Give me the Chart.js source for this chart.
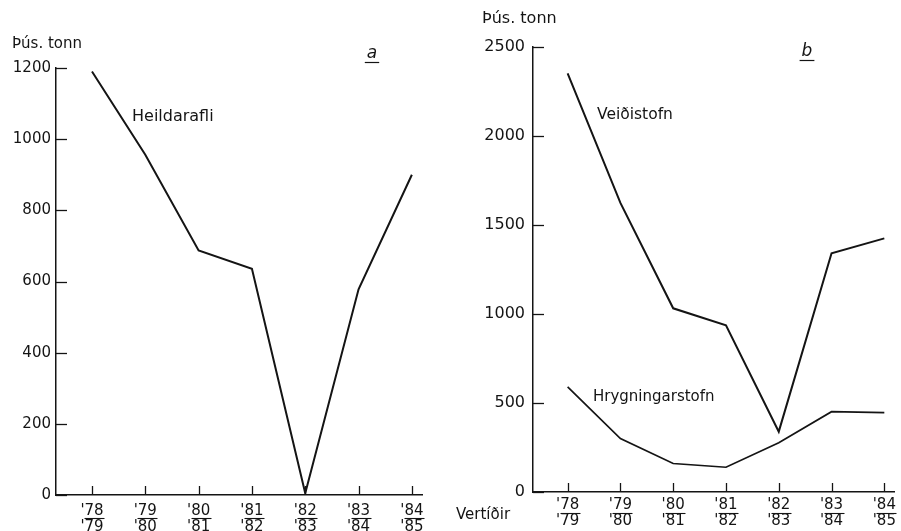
<!DOCTYPE html>
<html>
<head>
<meta charset="utf-8">
<title>Heildarafli, veiðistofn og hrygningarstofn</title>
<script src="https://cdn.jsdelivr.net/npm/chart.js@4/dist/chart.umd.min.js"></script>
<style>
  html, body { margin: 0; padding: 0; background: #ffffff; }
  #wrap { position: relative; width: 901px; height: 531px; overflow: hidden; background: #fff; }
  canvas { position: absolute; top: 0; }
  #chartA { left: 0; }
  #chartB { left: 450px; }
</style>
</head>
<body>
<div id="wrap">
  <canvas id="chartA" width="450" height="531"></canvas>
  <canvas id="chartB" width="451" height="531"></canvas>
</div>
<script>
// Vertíðir (fishing seasons), written as '78/'79 etc.
const seasons = [['78', '79'], ['79', '80'], ['80', '81'], ['81', '82'], ['82', '83'], ['83', '84'], ['84', '85']];

// Panel a: total catch, thousand tonnes
const heildarafli = [1190, 956, 687, 636, 5, 578, 900];

// Panel b: fishable stock and spawning stock, thousand tonnes
const veidistofn = [2352, 1624, 1032, 936, 339, 1341, 1425];
const hrygningarstofn = [590, 300, 160, 139, 277, 451, 446];

// Value-axis tick labels
const ticksA = [0, 200, 400, 600, 800, 1000, 1200];
const ticksB = [0, 500, 1000, 1500, 2000, 2500];

const INK = '#141414';
const FONT = '"DejaVu Sans", "Liberation Sans", sans-serif';

const toPoints = vals => vals.map((v, i) => ({ x: i, y: v }));

function seasonAxis(min, max, height, pad) {
  return {
    type: 'linear',
    min, max,
    afterBuildTicks: s => { s.ticks = seasons.map((_, i) => ({ value: i })); },
    afterFit: s => { s.height = height; },
    grid: { display: false, drawTicks: false },
    border: { display: true, color: INK, width: 1.5 },
    ticks: {
      padding: pad,
      color: INK,
      autoSkip: false,
      maxRotation: 0,
      font: { family: FONT, size: 15, lineHeight: 1.07 },
      callback: v => {
        const s = seasons[v];
        return s ? ["'" + s[0], "'" + s[1]] : '';
      }
    }
  };
}

function valueAxis(max, tickList, width, pad, size) {
  return {
    type: 'linear',
    min: 0, max,
    afterBuildTicks: s => { s.ticks = tickList.map(v => ({ value: v })); },
    afterFit: s => { s.width = width; },
    grid: { display: false, drawTicks: false },
    border: { display: true, color: INK, width: 1.5 },
    ticks: {
      padding: pad,
      color: INK,
      font: { family: FONT, size },
      callback: v => String(v)
    }
  };
}

// Inner tick marks, fraction bars under the season labels, and free text
const inkMarks = {
  id: 'inkMarks',
  afterDraw(chart, args, opts) {
    const { ctx, chartArea: a, scales: { x, y } } = chart;
    ctx.save();
    ctx.strokeStyle = INK;
    ctx.lineWidth = 1.3;
    y.ticks.forEach(t => {
      const py = Math.round(y.getPixelForValue(t.value)) + 0.5;
      ctx.beginPath();
      ctx.moveTo(a.left, py);
      ctx.lineTo(a.left + opts.yTick, py);
      ctx.stroke();
    });
    x.ticks.forEach(t => {
      const px = Math.round(x.getPixelForValue(t.value)) + 0.5;
      ctx.beginPath();
      ctx.moveTo(px, a.bottom);
      ctx.lineTo(px, a.bottom - opts.xTick);
      ctx.stroke();
      ctx.lineWidth = 1.1;
      const by = Math.round(a.bottom + opts.bar) + 0.5;
      ctx.beginPath();
      ctx.moveTo(px - 8, by);
      ctx.lineTo(px + 12, by);
      ctx.stroke();
      ctx.lineWidth = 1.3;
    });
    ctx.fillStyle = INK;
    ctx.textBaseline = 'middle';
    opts.texts.forEach(tx => {
      ctx.font = (tx.italic ? 'italic ' : '') + tx.size + 'px ' + FONT;
      ctx.textAlign = tx.align || 'left';
      ctx.fillText(tx.text, tx.x, tx.y);
      if (tx.underline) {
        const w = ctx.measureText(tx.text).width;
        const x0 = tx.align === 'center' ? tx.x - w / 2 : tx.x;
        ctx.lineWidth = 1.2;
        ctx.beginPath();
        ctx.moveTo(x0 - 2, tx.y + tx.underline + 0.5);
        ctx.lineTo(x0 + w + 2, tx.y + tx.underline + 0.5);
        ctx.stroke();
      }
    });
    ctx.restore();
  }
};

const lineStyle = {
  borderColor: INK,
  borderWidth: 2,
  pointRadius: 0,
  tension: 0,
  fill: false
};

Chart.defaults.animation = false;

new Chart(document.getElementById('chartA'), {
  type: 'line',
  data: {
    datasets: [{ label: 'Heildarafli', data: toPoints(heildarafli), ...lineStyle }]
  },
  options: {
    responsive: false,
    layout: { padding: { top: 68, right: 28, bottom: 0, left: 0 } },
    plugins: {
      legend: { display: false },
      tooltip: { enabled: false },
      inkMarks: {
        yTick: 11, xTick: 9, bar: 23,
        texts: [
          { text: 'Þús. tonn', x: 12, y: 44, size: 15 },
          { text: 'Heildarafli', x: 132, y: 117, size: 16 },
          { text: 'a', x: 372, y: 54, size: 17, italic: true, align: 'center', underline: 8 }
        ]
      }
    },
    scales: {
      x: seasonAxis(-0.675, 6.19, 36, 8),
      y: valueAxis(1200, ticksA, 56, 5, 15)
    }
  },
  plugins: [inkMarks]
});

new Chart(document.getElementById('chartB'), {
  type: 'line',
  data: {
    datasets: [
      { label: 'Veiðistofn', data: toPoints(veidistofn), ...lineStyle },
      { label: 'Hrygningarstofn', data: toPoints(hrygningarstofn), ...lineStyle, borderWidth: 1.7 }
    ]
  },
  options: {
    responsive: false,
    layout: { padding: { top: 47, right: 2.4, bottom: 0, left: 0 } },
    plugins: {
      legend: { display: false },
      tooltip: { enabled: false },
      inkMarks: {
        yTick: 11, xTick: 9, bar: 20.5,
        texts: [
          { text: 'Þús. tonn', x: 32, y: 19, size: 16 },
          { text: 'Veiðistofn', x: 147, y: 115, size: 15.5 },
          { text: 'Hrygningarstofn', x: 143, y: 397, size: 15 },
          { text: 'b', x: 357, y: 52, size: 17, italic: true, align: 'center', underline: 8 },
          { text: 'Vertíðir', x: 6, y: 515, size: 15 }
        ]
      }
    },
    scales: {
      x: seasonAxis(-0.656, 6.2, 39, 5),
      y: valueAxis(2500, ticksB, 83, 8, 16)
    }
  },
  plugins: [inkMarks]
});
</script>
</body>
</html>
